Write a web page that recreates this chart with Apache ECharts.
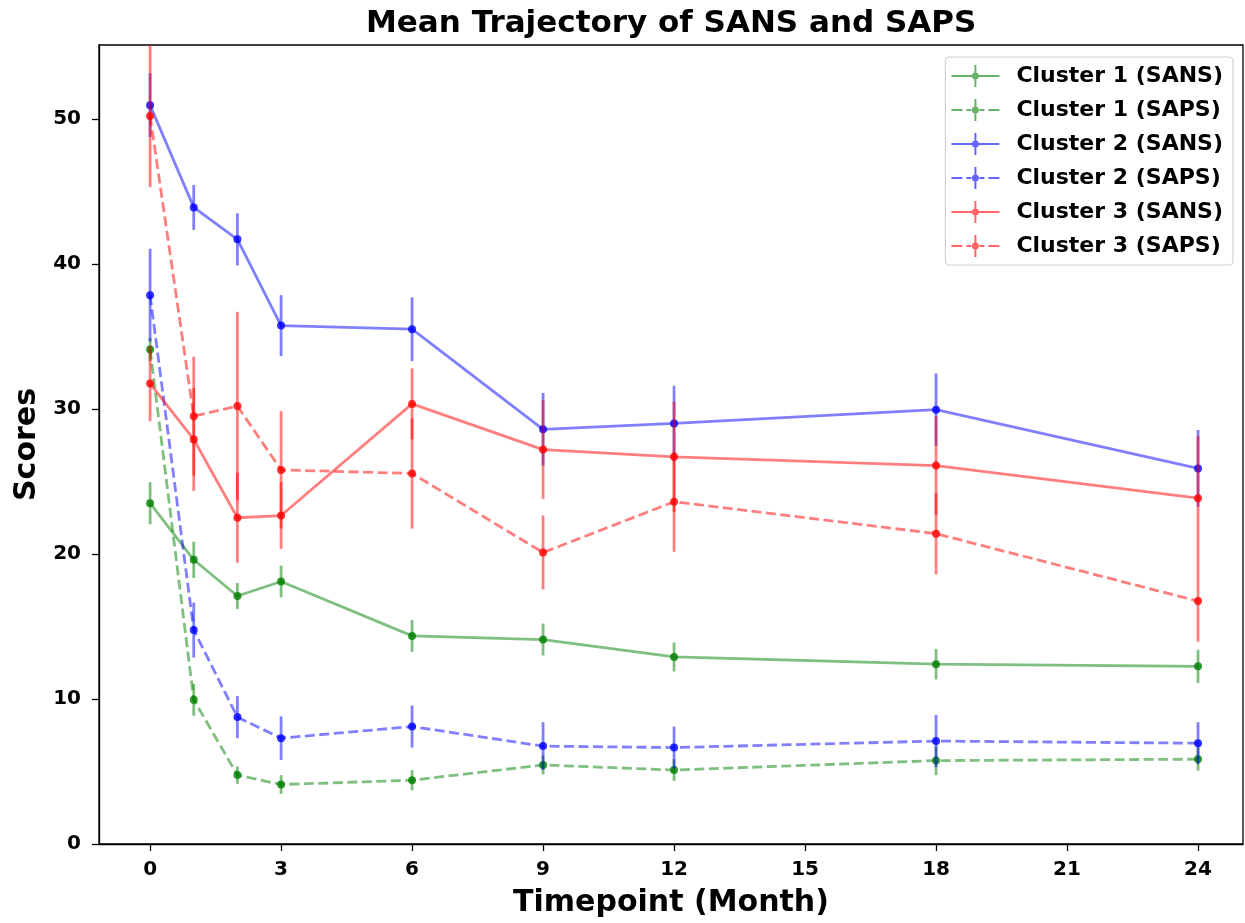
<!DOCTYPE html>
<html>
<head>
<meta charset="utf-8">
<script src="https://cdn.jsdelivr.net/npm/echarts@6/dist/echarts.min.js"></script>
<style>
html,body{margin:0;padding:0;background:#fff;}
#chart{width:1245px;height:923px;}
</style>
</head>
<body>
<div id="chart"></div>
<script>
const months = [0, 1, 2, 3, 6, 9, 12, 18, 24];
const xTicks = [0, 3, 6, 9, 12, 15, 18, 21, 24];
const yTicks = [0, 10, 20, 30, 40, 50];

const c1Sans = [23.5, 19.6, 17.1, 18.1, 14.35, 14.1, 12.9, 12.4, 12.25];
const c1SansErr = [1.45, 1.25, 0.9, 1.1, 1.1, 1.1, 1.0, 1.05, 1.15];
const c1Saps = [34.1, 9.95, 4.75, 4.1, 4.4, 5.45, 5.1, 5.75, 5.85];
const c1SapsErr = [0.8, 1.1, 0.6, 0.65, 0.7, 0.65, 0.75, 1.0, 0.8];
const c2Sans = [50.95, 43.9, 41.7, 35.75, 35.5, 28.6, 29.0, 29.95, 25.9];
const c2SansErr = [2.2, 1.55, 1.8, 2.1, 2.2, 2.5, 2.6, 2.5, 2.65];
const c2Saps = [37.85, 14.75, 8.75, 7.3, 8.1, 6.75, 6.65, 7.1, 6.95];
const c2SapsErr = [3.2, 1.9, 1.45, 1.5, 1.45, 1.65, 1.45, 1.8, 1.45];
const c3Sans = [31.75, 27.9, 22.5, 22.65, 30.35, 27.2, 26.7, 26.1, 23.85];
const c3SansErr = [2.6, 3.55, 3.1, 2.3, 2.45, 3.4, 3.8, 3.4, 4.3];
const c3Saps = [50.2, 29.5, 30.2, 25.8, 25.55, 20.1, 23.6, 21.4, 16.75];
const c3SapsErr = [4.9, 4.1, 6.5, 4.05, 3.8, 2.55, 3.45, 2.8, 2.8];

const seriesDefs = [
  {name: 'Cluster 1 (SANS)', color: '#008000', dashed: false, y: c1Sans, e: c1SansErr},
  {name: 'Cluster 1 (SAPS)', color: '#008000', dashed: true,  y: c1Saps, e: c1SapsErr},
  {name: 'Cluster 2 (SANS)', color: '#0000ff', dashed: false, y: c2Sans, e: c2SansErr},
  {name: 'Cluster 2 (SAPS)', color: '#0000ff', dashed: true,  y: c2Saps, e: c2SapsErr},
  {name: 'Cluster 3 (SANS)', color: '#ff0000', dashed: false, y: c3Sans, e: c3SansErr},
  {name: 'Cluster 3 (SAPS)', color: '#ff0000', dashed: true,  y: c3Saps, e: c3SapsErr}
];

const FONT = '"DejaVu Sans", sans-serif';
const LW = 2.8;
const solidIcon = 'path://M0 10H48V12H0Z M23 0H25V22H23Z M24 7.5A3.5 3.5 0 0 1 24 14.5A3.5 3.5 0 0 1 24 7.5Z';
const dashIcon = 'path://M0 10H11V12H0Z M15 10H20V12H15Z M28 10H33V12H28Z M37 10H48V12H37Z M23 0H25V22H23Z M24 7.5A3.5 3.5 0 0 1 24 14.5A3.5 3.5 0 0 1 24 7.5Z';

const series = [];
seriesDefs.forEach(function (d, i) {
  const pts = months.map(function (m, k) { return [m, d.y[k]]; });
  const errPts = months.map(function (m, k) { return [m, d.y[k], d.e[k]]; });
  series.push({
    name: d.name,
    type: 'line',
    data: pts,
    z: 10 + i * 3,
    symbol: 'circle',
    symbolSize: 8,
    showSymbol: true,
    animation: false,
    clip: true,
    lineStyle: {color: d.color, width: LW, opacity: 0.5, type: d.dashed ? [10, 4.5] : 'solid'},
    itemStyle: {color: d.color, opacity: 0.8, borderWidth: 0},
    emphasis: {disabled: true}
  });
  series.push({
    name: d.name + ' err',
    type: 'custom',
    data: errPts,
    z: 10 + i * 3 + 1,
    animation: false,
    clip: true,
    encode: {x: 0, y: 1},
    renderItem: function (params, api) {
      const x = api.value(0), y = api.value(1), e = api.value(2);
      const p1 = api.coord([x, y - e]);
      const p2 = api.coord([x, y + e]);
      return {
        type: 'line',
        shape: {x1: p1[0], y1: p1[1], x2: p2[0], y2: p2[1]},
        style: {stroke: d.color, lineWidth: LW, opacity: 0.5}
      };
    }
  });
});

const chart = echarts.init(document.getElementById('chart'), null, {renderer: 'canvas'});
chart.setOption({
  backgroundColor: '#ffffff',
  animation: false,
  title: {
    text: 'Mean Trajectory of SANS and SAPS',
    left: 366,
    top: 8,
    padding: 0,
    textStyle: {fontFamily: FONT, fontWeight: 'bold', fontSize: 31, color: '#000'}
  },
  grid: {left: 99, right: 2, top: 45, bottom: 71, containLabel: false,
         show: true, borderColor: '#000', borderWidth: 1.3, backgroundColor: 'transparent'},
  legend: {
    orient: 'vertical',
    right: 12,
    top: 57,
    itemWidth: 48,
    itemHeight: 22,
    itemGap: 12,
    padding: [8, 10, 8, 6],
    borderColor: '#d0d0d0',
    borderWidth: 1.2,
    borderRadius: 4,
    backgroundColor: 'rgba(255,255,255,0.8)',
    textStyle: {fontFamily: FONT, fontWeight: 'bold', fontSize: 22, color: '#000', padding: [0, 0, 0, 12]},
    data: seriesDefs.map(function (d) {
      return {name: d.name, icon: d.dashed ? dashIcon : solidIcon, itemStyle: {color: d.color, opacity: 0.6}};
    }),
    selectedMode: false
  },
  xAxis: {
    type: 'value',
    min: -1.17,
    max: 25.03,
    name: 'Timepoint (Month)',
    nameLocation: 'middle',
    nameGap: 44,
    nameTextStyle: {fontFamily: FONT, fontWeight: 'bold', fontSize: 30, color: '#000'},
    axisLine: {show: true, onZero: false, lineStyle: {color: '#000', width: 1.3}},
    axisTick: {show: true, inside: false, length: 7, customValues: xTicks, lineStyle: {color: '#000', width: 1.3}},
    axisLabel: {show: true, margin: 16, customValues: xTicks, fontFamily: FONT, fontWeight: 'bold', fontSize: 20, color: '#000'},
    splitLine: {show: false}
  },
  yAxis: {
    type: 'value',
    min: 0,
    max: 55.1,
    name: 'Scores',
    nameLocation: 'middle',
    nameGap: 53,
    nameTextStyle: {fontFamily: FONT, fontWeight: 'bold', fontSize: 30, color: '#000'},
    axisLine: {show: true, onZero: false, lineStyle: {color: '#000', width: 1.3}},
    axisTick: {show: true, inside: false, length: 7, customValues: yTicks, lineStyle: {color: '#000', width: 1.3}},
    axisLabel: {show: true, margin: 18, customValues: yTicks, fontFamily: FONT, fontWeight: 'bold', fontSize: 20, color: '#000'},
    splitLine: {show: false}
  },
  series: series
});
</script>
</body>
</html>
